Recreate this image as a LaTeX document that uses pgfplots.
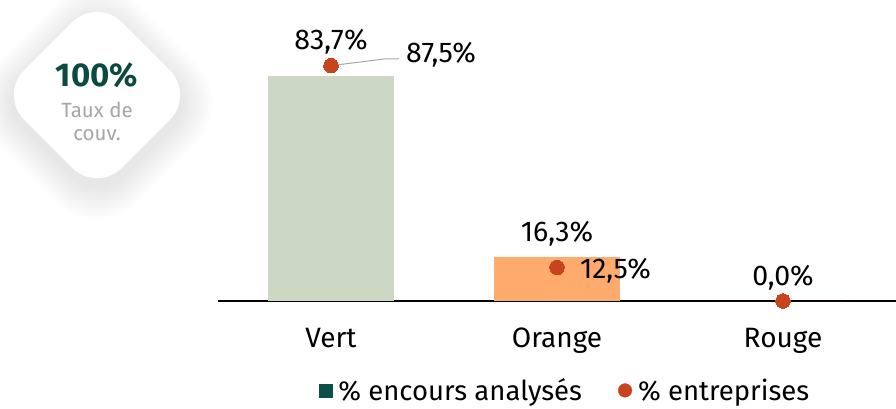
\documentclass[border=0pt]{standalone}
\usepackage{pgfplots}
\pgfplotsset{compat=1.18}
\usepackage{fontspec}
\setmainfont{Fira Sans}
\definecolor{vertbar}{HTML}{CCD8C4}
\definecolor{orangebar}{HTML}{FFAB6E}
\definecolor{legvert}{HTML}{0B4F47}
\definecolor{ptred}{HTML}{C8441E}
\definecolor{badgegreen}{HTML}{0B4A40}
\definecolor{badgegray}{HTML}{A6A6A6}
\begin{document}
\begin{tikzpicture}
\useasboundingbox (0pt,0pt) rectangle (896pt,408pt);
% badge shadow
\foreach \i in {1,...,12}{
  \node[fill=black, opacity=0.007, minimum width={138pt+5*\i pt}, minimum height={138pt+5*\i pt}, rounded corners={35pt+2*\i pt}, rotate=45, inner sep=0pt] at (97pt,305pt) {};
}
\node[fill=white, minimum width=138pt, minimum height=138pt, rounded corners=35pt, rotate=45, inner sep=0pt] at (97pt,313pt) {};
\node[font=\fontsize{33}{38}\selectfont\bfseries, text=badgegreen, anchor=base] at (97pt,322pt) {100\%};
\node[font=\fontsize{20.5}{24}\selectfont, text=badgegray, anchor=base] at (97pt,291pt) {Taux de};
\node[font=\fontsize{20.5}{24}\selectfont, text=badgegray, anchor=base] at (97pt,268pt) {couv.};
\begin{axis}[
  at={(218pt,107pt)}, anchor=south west,
  scale only axis, width=678pt, height=301pt,
  xmin=-0.5, xmax=2.5, ymin=0, ymax=111.9,
  axis x line*=bottom, hide y axis,
  x axis line style={black, line width=1.6pt, -},
  xtick={0,1,2}, xticklabels={Vert,Orange,Rouge},
  major tick length=0pt,
  xticklabel style={font=\fontsize{28}{33}\selectfont, anchor=base, yshift=-46pt},
  clip=false,
  legend style={at={(0.512,-0.297)}, anchor=center, draw=none, fill=none,
    legend columns=2, font=\fontsize{27.5}{32}\selectfont,
    nodes={inner sep=2pt},
    /tikz/every odd column/.append style={column sep=4pt},
    /tikz/every even column/.append style={column sep=34pt},
    legend cell align=left},
]
% bars
\addplot[ybar, bar shift=0pt, bar width=126pt, fill=vertbar, draw=none, forget plot,
  nodes near coords, point meta=explicit symbolic,
  every node near coord/.append style={anchor=base, inner sep=0pt, yshift=26pt, font=\fontsize{28.5}{33}\selectfont, text=black}]
  coordinates {(0,83.7) [83,7\%]};
\addplot[ybar, bar shift=0pt, bar width=126pt, fill=orangebar, draw=none, forget plot,
  nodes near coords, point meta=explicit symbolic,
  every node near coord/.append style={anchor=base, inner sep=0pt, yshift=16pt, font=\fontsize{28.5}{33}\selectfont, text=black}]
  coordinates {(1,16.3) [16,3\%]};
\addplot[ybar, bar shift=0pt, bar width=126pt, fill=red, draw=none, forget plot,
  nodes near coords, point meta=explicit symbolic,
  every node near coord/.append style={anchor=base, inner sep=0pt, yshift=16pt, font=\fontsize{28.5}{33}\selectfont, text=black}]
  coordinates {(2,0.0) [0,0\%]};
% leader line
\draw[gray!70, line width=1pt] (axis cs:0,87.5) -- (axis cs:0.24,90.0) -- (axis cs:0.30,90.0);
\draw[gray!70, line width=1pt] (axis cs:0,85.0) -- (axis cs:0,90.0);
% points
\addplot[only marks, mark=*, mark size=7.3pt, mark options={fill=ptred, draw=ptred, line width=0pt}, forget plot]
  coordinates {(0,87.5) (1,12.5) (2,0.0)};
\addplot[only marks, mark=none, forget plot,
  nodes near coords, point meta=explicit symbolic,
  every node near coord/.append style={anchor=base west, inner sep=0pt, font=\fontsize{28.5}{33}\selectfont, text=black}]
  coordinates {(0.332,88.5) [87,5\%] (1.101,8.2) [12,5\%]};
% legend
\addlegendimage{legend image code/.code={\fill[legvert] (0pt,-6.5pt) rectangle (13pt,6.5pt);}}
\addlegendentry{\% encours analysés}
\addlegendimage{legend image code/.code={\fill[ptred] (6.5pt,0pt) circle (6.8pt);}}
\addlegendentry{\% entreprises}
\end{axis}
\end{tikzpicture}
\end{document}
